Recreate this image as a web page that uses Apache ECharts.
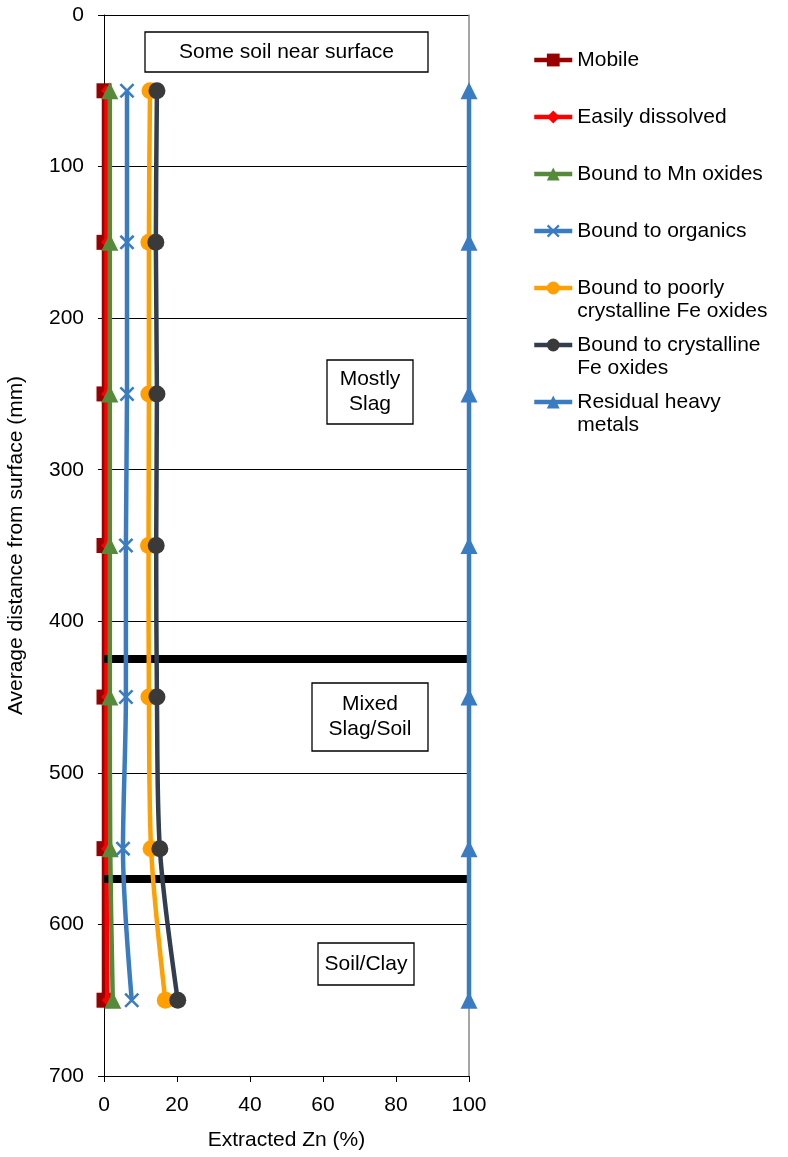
<!DOCTYPE html>
<html>
<head>
<meta charset="utf-8">
<script src="https://cdn.jsdelivr.net/npm/echarts@6/dist/echarts.min.js"></script>
<style>
  html, body { margin: 0; padding: 0; background: #fff; }
  #main { width: 788px; height: 1157px; }
</style>
</head>
<body>
<div id="main"></div>
<script>
// depth of each sample (mm)
var depths = [50, 150, 250, 350, 450, 550, 650];

// cumulative extracted Zn (%) per fraction
var mobile       = [0, 0, 0, 0, 0, 0, 0];
var easily       = [0.7, 0.7, 0.7, 0.7, 0.7, 0.7, 0.9];
var mnOxides     = [1.6, 1.6, 1.6, 1.6, 1.6, 1.7, 2.4];
var organics     = [6.3, 6.3, 6.3, 6.0, 6.0, 5.2, 7.6];
var poorlyFe     = [12.6, 12.3, 12.3, 12.2, 12.3, 12.9, 16.8];
var crystFe      = [14.5, 14.2, 14.5, 14.3, 14.5, 15.3, 20.2];
var residual     = [100, 100, 100, 100, 100, 100, 100];

var seriesNames = ['Mobile', 'Easily dissolved', 'Bound to Mn oxides', 'Bound to organics',
  'Bound to poorly crystalline Fe oxides', 'Bound to crystalline Fe oxides', 'Residual heavy metals'];

// layer boundaries (mm)
var boundaries = [425, 570];

var yTicks = [0, 100, 200, 300, 400, 500, 600, 700];
var xTicks = [0, 20, 40, 60, 80, 100];

function pairs(vals) {
  var out = [];
  for (var i = 0; i < vals.length; i++) out.push([vals[i], depths[i]]);
  return out;
}

var xMark = 'path://M0,1.2 L1.2,0 L10,8.8 L8.8,10 Z M8.8,0 L10,1.2 L1.2,10 L0,8.8 Z';

var FONT = 'Liberation Sans, Arial, sans-serif';

var styles = [
  { line: '#990000', mark: '#990000', symbol: 'rect', size: 15 },
  { line: '#ff0000', mark: '#ff0000', symbol: 'diamond', size: 11 },
  { line: '#558a3b', mark: '#558a3b', symbol: 'triangle', size: 17 },
  { line: '#3a7cc2', mark: '#3a7cc2', symbol: xMark, size: 15 },
  { line: '#ffa000', mark: '#ffa000', symbol: 'circle', size: 17 },
  { line: '#323e4f', mark: '#3a3a3a', symbol: 'circle', size: 17 },
  { line: '#3a7cc2', mark: '#3a7cc2', symbol: 'triangle', size: 17 }
];
var allData = [mobile, easily, mnOxides, organics, poorlyFe, crystFe, residual];

var series = [];
for (var s = 0; s < allData.length; s++) {
  var st = styles[s];
  series.push({
    name: seriesNames[s],
    type: 'line',
    smooth: 0.3,
    data: pairs(allData[s]),
    symbol: st.symbol,
    symbolSize: st.size,
    lineStyle: { color: st.line, width: 4.5 },
    itemStyle: { color: st.mark },
    z: 3 + s
  });
}
// thick black boundary lines
series[0].markLine = {
  silent: true,
  symbol: 'none',
  label: { show: false },
  lineStyle: { color: '#000', width: 8, type: 'solid' },
  data: boundaries.map(function (b) { return { yAxis: b }; })
};

// legend: one component per entry so the spacing matches the original
var legendCenters = [60, 117, 174, 231, 288, 345, 402];
var legendLabels = ['Mobile', 'Easily dissolved', 'Bound to Mn oxides', 'Bound to organics',
  '\nBound to poorly\ncrystalline Fe oxides', '\nBound to crystalline\nFe oxides', '\nResidual heavy\nmetals'];
var legends = [];
for (var i = 0; i < seriesNames.length; i++) {
  var twoLine = legendLabels[i].charAt(0) === '\n';
  legends.push({
    data: [seriesNames[i]],
    left: 532,
    top: legendCenters[i] - (twoLine ? 34.5 : 11.5),
    orient: 'vertical',
    itemWidth: 38,
    itemHeight: 16,
    padding: 0,
    selectedMode: false,
    lineStyle: { width: 'inherit' },
    formatter: (function (lab) { return function () { return lab; }; })(legendLabels[i]),
    textStyle: { fontFamily: FONT, fontSize: 21, color: '#000', lineHeight: 23 }
  });
}

function box(cx, cy, w, h, text) {
  return {
    type: 'group',
    children: [
      { type: 'rect', shape: { x: cx - w / 2, y: cy - h / 2, width: w, height: h },
        style: { fill: '#fff', stroke: '#000', lineWidth: 1.3 }, z: 100 },
      { type: 'text', x: cx, y: cy, z: 101,
        style: { text: text, fill: '#000', font: '21px ' + FONT, align: 'center',
          verticalAlign: 'middle', lineHeight: 25 } }
    ]
  };
}

var chart = echarts.init(document.getElementById('main'));
chart.setOption({
  animation: false,
  backgroundColor: '#fff',
  grid: { left: 104, right: 319, top: 15, bottom: 81 },
  legend: legends,
  xAxis: {
    type: 'value', min: xTicks[0], max: xTicks[xTicks.length - 1], interval: 20,
    position: 'bottom',
    name: 'Extracted Zn (%)', nameLocation: 'middle', nameGap: 54,
    nameTextStyle: { fontFamily: FONT, fontSize: 21, color: '#000' },
    axisLine: { onZero: false, lineStyle: { color: '#000', width: 1 } },
    axisTick: { show: true, length: 6, inside: false, lineStyle: { color: '#000' } },
    axisLabel: { fontFamily: FONT, fontSize: 21, color: '#000', margin: 19 },
    splitLine: { show: false }
  },
  yAxis: [{
    type: 'value', inverse: true, min: yTicks[0], max: yTicks[yTicks.length - 1], interval: 100,
    name: 'Average distance from surface (mm)', nameLocation: 'middle', nameGap: 77, nameRotate: 90,
    nameTextStyle: { fontFamily: FONT, fontSize: 21, color: '#000' },
    axisLine: { show: true, onZero: false, lineStyle: { color: '#000', width: 1 } },
    axisTick: { show: true, length: 6, lineStyle: { color: '#000' } },
    axisLabel: { fontFamily: FONT, fontSize: 21, color: '#000', margin: 20 },
    splitLine: { show: true, lineStyle: { color: '#000', width: 1 } }
  }, {
    type: 'value', inverse: true, min: 0, max: 700, position: 'right',
    axisLine: { show: true, onZero: false, lineStyle: { color: '#888', width: 1.5 } },
    axisTick: { show: false }, axisLabel: { show: false }, splitLine: { show: false }
  }],
  series: series,
  graphic: [
    box(286.5, 52, 283, 40, 'Some soil near surface'),
    box(370, 392, 86, 64, 'Mostly\nSlag'),
    box(370, 717, 116, 68, 'Mixed\nSlag/Soil'),
    box(366, 964, 96, 42, 'Soil/Clay')
  ]
});
</script>
</body>
</html>
